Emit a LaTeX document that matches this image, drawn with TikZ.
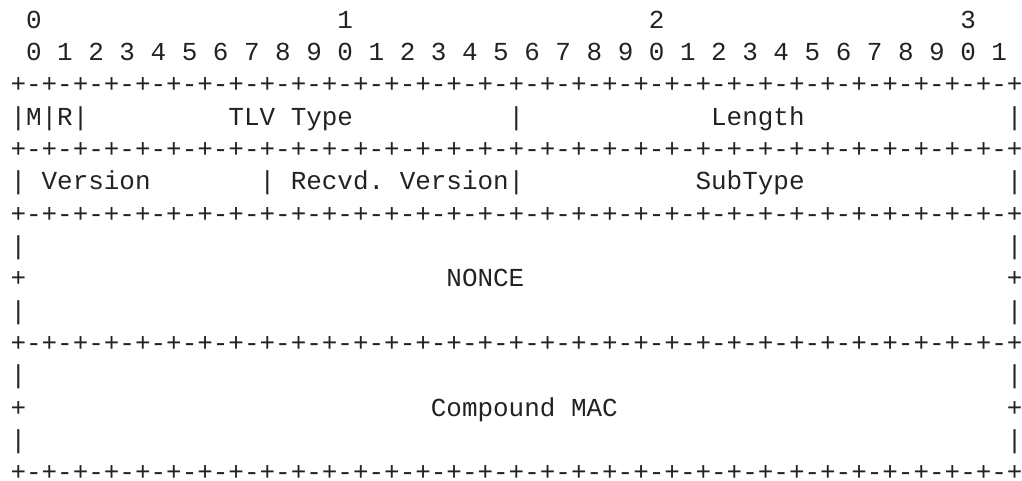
\documentclass[tikz,border=0pt]{standalone}
\usepackage{fontspec}
\setmonofont{Liberation Mono}
\definecolor{ink}{HTML}{222222}
\newcommand\rulerline{+-+-+-+-+-+-+-+-+-+-+-+-+-+-+-+-+-+-+-+-+-+-+-+-+-+-+-+-+-+-+-+-+}
\begin{document}
\begin{tikzpicture}[x=1pt,y=-1pt,
  cell/.style={inner sep=0pt,outer sep=0pt,anchor=base west,text=ink,
    font=\ttfamily\fontsize{25.95}{31}\selectfont}]
\useasboundingbox (0,0) rectangle (1022,481);
\newcommand\piece[4]{\node[cell] (#1) at ({10.5+15.57*#2},{28.2+32.33*#3}) {#4};}
% header
\piece{h0}{1}{0}{0}
\piece{h1}{21}{0}{1}
\piece{h2}{41}{0}{2}
\piece{h3}{61}{0}{3}
\piece{bits}{1}{1}{0 1 2 3 4 5 6 7 8 9 0 1 2 3 4 5 6 7 8 9 0 1 2 3 4 5 6 7 8 9 0 1}
% rulers
\piece{r1}{0}{2}{\rulerline}
\piece{r2}{0}{4}{\rulerline}
\piece{r3}{0}{6}{\rulerline}
\piece{r4}{0}{10}{\rulerline}
\piece{r5}{0}{14}{\rulerline}
% row 3
\piece{mr}{0}{3}{|M|R|}
\piece{tlv}{14}{3}{TLV Type}
\piece{s3a}{32}{3}{|}
\piece{len}{45}{3}{Length}
\piece{s3b}{64}{3}{|}
% row 5
\piece{s5a}{0}{5}{|}
\piece{ver}{2}{5}{Version}
\piece{s5b}{16}{5}{|}
\piece{rver}{18}{5}{Recvd. Version|}
\piece{sub}{44}{5}{SubType}
\piece{s5c}{64}{5}{|}
% nonce
\piece{s7a}{0}{7}{|}
\piece{s7b}{64}{7}{|}
\piece{p8a}{0}{8}{+}
\piece{nonce}{28}{8}{NONCE}
\piece{p8b}{64}{8}{+}
\piece{s9a}{0}{9}{|}
\piece{s9b}{64}{9}{|}
% mac
\piece{s11a}{0}{11}{|}
\piece{s11b}{64}{11}{|}
\piece{p12a}{0}{12}{+}
\piece{mac}{27}{12}{Compound MAC}
\piece{p12b}{64}{12}{+}
\piece{s13a}{0}{13}{|}
\piece{s13b}{64}{13}{|}
\end{tikzpicture}
\end{document}
